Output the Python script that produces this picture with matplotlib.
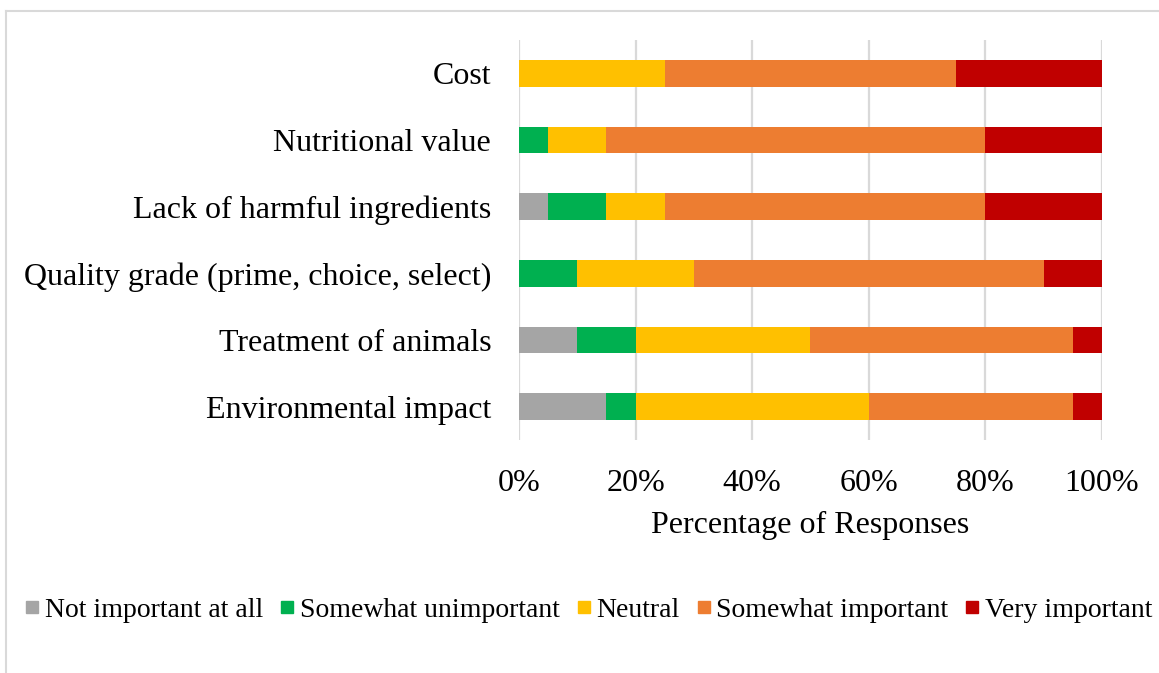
import matplotlib.pyplot as plt
import numpy as np
from matplotlib.lines import Line2D

# Survey results, percent of responses per attribute
attributes = ["Cost", "Nutritional value", "Lack of harmful ingredients",
              "Quality grade (prime, choice, select)", "Treatment of animals",
              "Environmental impact"]
levels = ["Not important at all", "Somewhat unimportant", "Neutral",
          "Somewhat important", "Very important"]
not_important = [0, 0, 5, 0, 10, 15]
somewhat_unimportant = [0, 5, 10, 10, 10, 5]
neutral = [25, 10, 10, 20, 30, 40]
somewhat_important = [50, 65, 55, 60, 45, 35]
very_important = [25, 20, 20, 10, 5, 5]
colors = ["#a5a5a5", "#00b050", "#ffc000", "#ed7d31", "#c00000"]
xtick_labels = ["0%", "20%", "40%", "60%", "80%", "100%"]

plt.rcParams['font.family'] = ['Liberation Serif', 'DejaVu Serif']

fig = plt.figure(figsize=(11.59, 6.73), dpi=100)
ax = fig.add_axes([0.4478, 0.3462, 0.5030, 0.5944])

series = [not_important, somewhat_unimportant, neutral, somewhat_important, very_important]
y = np.arange(len(attributes))[::-1]
left = np.zeros(len(attributes))
for vals, col, name in zip(series, colors, levels):
    vals = np.array(vals) / 100
    ax.barh(y, vals, left=left, height=0.4, color=col, label=name, zorder=3)
    left += vals

ax.set_xlim(0, 1)
ax.set_ylim(-0.5, len(attributes) - 0.5)
ax.set_xticks(np.linspace(0, 1, 6))
ax.set_xticklabels(xtick_labels, fontsize=23)
ax.set_yticks(y)
ax.set_yticklabels(attributes, fontsize=23)
ax.tick_params(length=0, pad=20, axis='y')
ax.tick_params(length=0, pad=21, axis='x')
ax.xaxis.grid(True, color="#d9d9d9", linewidth=1.6, zorder=0)
for s in ax.spines.values():
    s.set_visible(False)
ax.set_xlabel("Percentage of Responses", fontsize=23, labelpad=9)

# legend along the bottom
handles = [Line2D([], [], marker='s', linestyle='none', markersize=9,
                  markerfacecolor=c, markeredgecolor=c) for c in colors]
fig.legend(handles, levels, loc='center left', bbox_to_anchor=(0.0218, 0.0936),
           ncol=5, frameon=False, fontsize=20, handletextpad=0.2,
           columnspacing=0.62, handlelength=0.5, borderpad=0, borderaxespad=0)

# chart area border
fig.add_artist(Line2D([6 / 1159, 6 / 1159], [0, 1 - 11 / 673], color="#d9d9d9", linewidth=1.5))
fig.add_artist(Line2D([6 / 1159, 1], [1 - 11 / 673, 1 - 11 / 673], color="#d9d9d9", linewidth=1.5))

fig.savefig("out.png", dpi=100)
